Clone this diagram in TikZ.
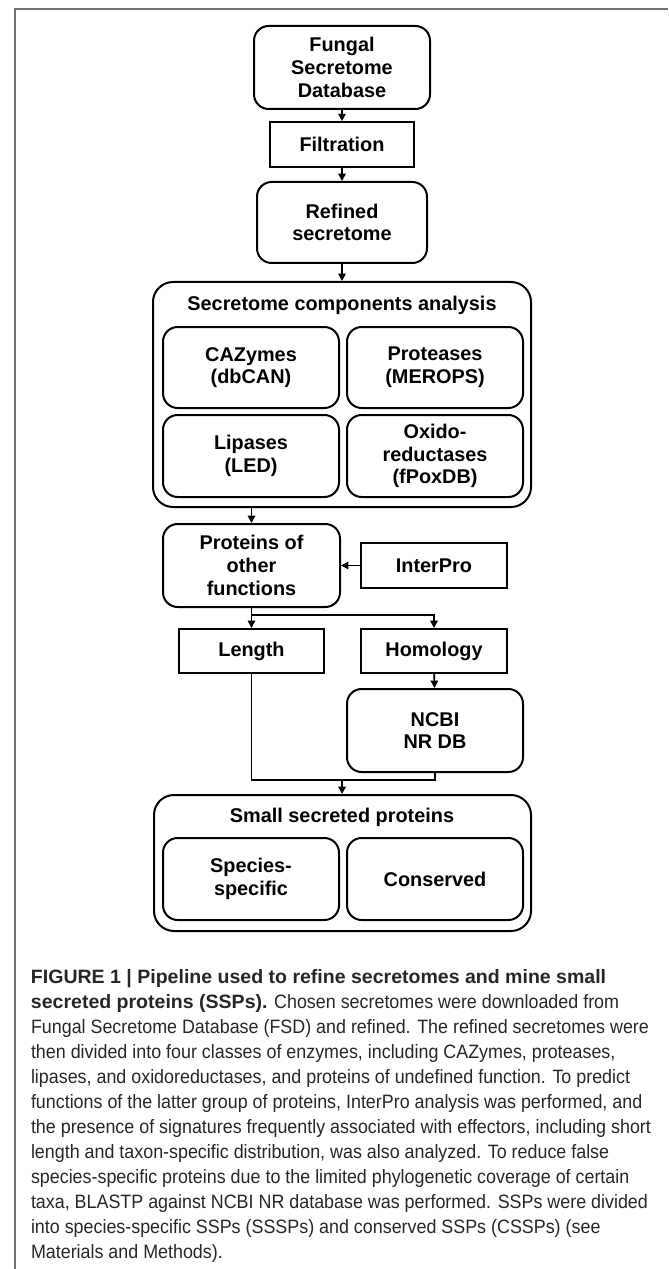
\documentclass[tikz,border=0pt]{standalone}
\usepackage{fontspec}
\setmainfont{Liberation Sans}
\newfontfamily\capfont[FakeStretch=0.925,BoldFeatures={FakeStretch=1.01}]{Liberation Sans}
\usetikzlibrary{arrows.meta}

\begin{document}
\begin{tikzpicture}[x=0.75pt,y=-0.75pt,line width=1.5pt,
  box/.style={draw,rounded corners=11pt,align=center,inner sep=0pt,
    minimum width=132pt,minimum height=61.5pt,
    font=\bfseries\fontsize{14.9}{17}\selectfont},
  sqbox/.style={draw,align=center,inner sep=0pt,
    minimum width=109pt,minimum height=33.5pt,
    font=\bfseries\fontsize{14.9}{17}\selectfont},
  groupbox/.style={draw,rounded corners=15pt,inner sep=0pt,minimum width=283.5pt},
  grouptitle/.style={inner sep=0pt,font=\bfseries\fontsize{14.9}{17}\selectfont},
  link/.style={line width=1.3pt,-{Triangle[length=5.5pt,width=5.5pt]}},
  joint/.style={line width=1.3pt}]
\useasboundingbox (0,0) rectangle (668,1269);
%marco
\draw[black!55,line width=1.1pt] (15,1269) -- (15,9) -- (668,9);

%banco de dados e filtragem
\node[box,minimum height=62.25pt] (fsd) at (342,67.5) {Fungal\\Secretome\\Database};
\node[sqbox,minimum width=108pt] (filt) at (342,144.5) {Filtration};
\node[box,minimum width=127.5pt,minimum height=60.75pt] (refined) at (342,222.5) {Refined\\secretome};

%componentes do secretoma
\node[groupbox,minimum height=168.75pt] (secbox) at (342,394.5) {};
\node[grouptitle] (sectitle) at (342,305) {Secretome components analysis};
\node[box,minimum height=60.75pt] (cazy) at (251,367.5) {CAZymes\\(dbCAN)};
\node[box,minimum height=60.75pt] (prot) at (435,367.5) {Proteases\\(MEROPS)};
\node[box] (lip) at (251,456) {Lipases\\(LED)};
\node[box] (oxi) at (435,456) {Oxido-\\reductases\\(fPoxDB)};

%proteinas de outras funcoes
\node[box,minimum width=132.75pt,minimum height=62.25pt] (other) at (251.5,565.5) {Proteins of\\other\\functions};
\node[sqbox] (interpro) at (434,565.5) {InterPro};
\node[sqbox,minimum height=33pt] (len) at (251.5,651) {Length};
\node[sqbox,minimum height=33pt] (hom) at (434,651) {Homology};
\node[box,minimum height=62.25pt] (ncbi) at (435,730.5) {NCBI\\NR DB};

%SSPs
\node[groupbox,minimum width=282.75pt,minimum height=102pt] (sspbox) at (342.5,863) {};
\node[grouptitle] (ssptitle) at (342,817) {Small secreted proteins};
\node[box] (spec) at (251,879) {Species-\\specific};
\node[box] (cons) at (435,879) {Conserved};

%setas
\draw[link] (fsd) -- (filt);
\draw[link] (filt) -- (refined);
\draw[link] (refined) -- (secbox);
\draw[link] (other.north |- secbox.south) -- (other.north);
\draw[link] (interpro) -- (other);
\draw[link] (other) -- (len);
\draw[link] (other.south) -- ++(0,7) -| (hom.north);
\draw[link] (hom) -- (ncbi);
\coordinate (merge) at (342,780);
\draw[joint] (len.south) |- (merge) -| (ncbi.south);
\draw[link] (merge) -- (sspbox);

%legenda
\node[anchor=north west,align=left,inner sep=0pt,text=black!85,
  font=\capfont\fontsize{14.5}{18.8}\selectfont] (caption) at (30,968)
{\textbf{FIGURE 1 | Pipeline used to refine secretomes and mine small}\\
\textbf{secreted proteins (SSPs).} Chosen secretomes were downloaded from\\
Fungal Secretome Database (FSD) and refined. The refined secretomes were\\
then divided into four classes of enzymes, including CAZymes, proteases,\\
lipases, and oxidoreductases, and proteins of undefined function. To predict\\
functions of the latter group of proteins, InterPro analysis was performed, and\\
the presence of signatures frequently associated with effectors, including short\\
length and taxon-specific distribution, was also analyzed. To reduce false\\
species-specific proteins due to the limited phylogenetic coverage of certain\\
taxa, BLASTP against NCBI NR database was performed. SSPs were divided\\
into species-specific SSPs (SSSPs) and conserved SSPs (CSSPs) (see\\
Materials and Methods).};
\end{tikzpicture}
\end{document}
